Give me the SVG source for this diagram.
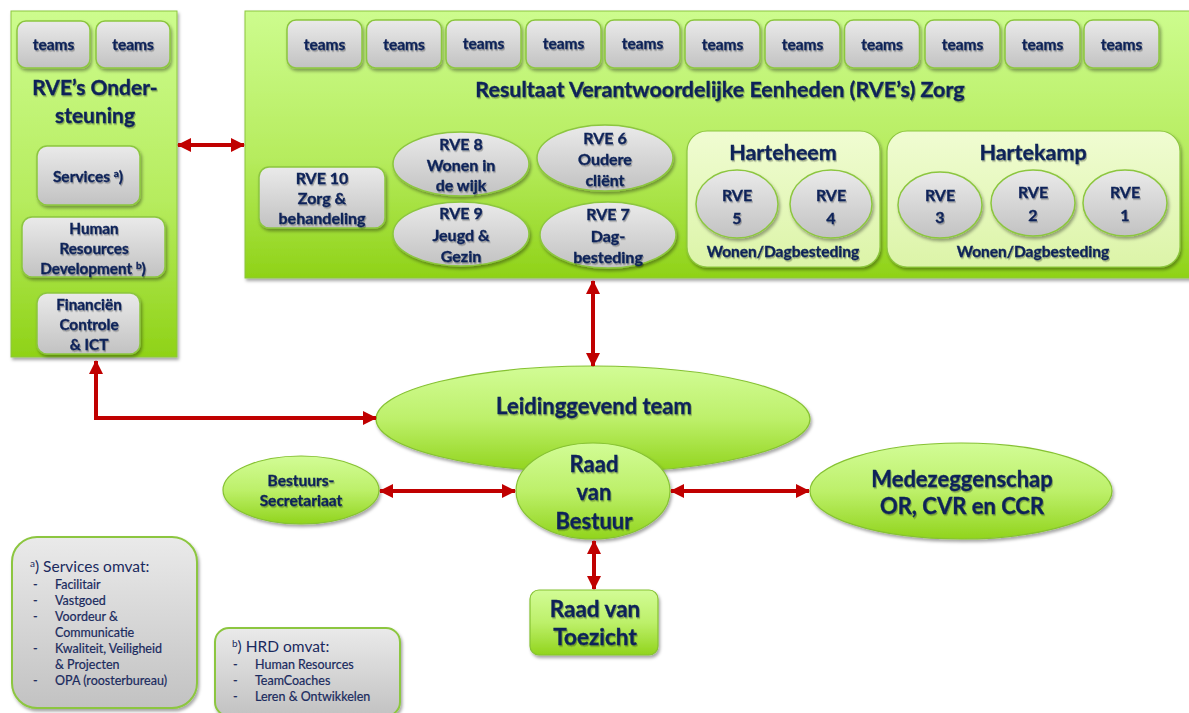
<svg xmlns="http://www.w3.org/2000/svg" width="1189" height="713" viewBox="0 0 1189 713">
<defs>
<linearGradient id="gPanel" x1="0" y1="0" x2="0" y2="1"><stop offset="0" stop-color="#cdfc8e"/><stop offset="0.55" stop-color="#b6ec5e"/><stop offset="1" stop-color="#8fd217"/></linearGradient>
<linearGradient id="gGreen" x1="0" y1="0" x2="0" y2="1"><stop offset="0" stop-color="#d2fc96"/><stop offset="0.5" stop-color="#bdf06a"/><stop offset="1" stop-color="#91d41c"/></linearGradient>
<linearGradient id="gGray" x1="0" y1="0" x2="0" y2="1"><stop offset="0" stop-color="#eaeaea"/><stop offset="1" stop-color="#c2c2c2"/></linearGradient>
<linearGradient id="gLight" x1="0" y1="0" x2="0" y2="1"><stop offset="0" stop-color="#f0fcd2"/><stop offset="1" stop-color="#dcf4a8"/></linearGradient>
<filter id="sh" x="-10%" y="-10%" width="125%" height="130%"><feDropShadow dx="1.5" dy="2.5" stdDeviation="1.8" flood-color="#000" flood-opacity="0.35"/></filter>
<filter id="tsh" x="-5%" y="-20%" width="115%" height="150%"><feDropShadow dx="1" dy="1.5" stdDeviation="0.7" flood-color="#000" flood-opacity="0.3"/></filter>
<marker id="ah" viewBox="0 0 14 14" refX="13" refY="7" markerWidth="14" markerHeight="14" markerUnits="userSpaceOnUse" orient="auto-start-reverse"><path d="M0,0 L14,7 L0,14 Z" fill="#c00000"/></marker>
</defs>
<style>
text{font-family:Lato,"Open Sans","Liberation Sans",sans-serif;font-weight:bold;fill:#0d2359;stroke:#0d2359;stroke-width:0.35;text-anchor:middle}
.t{filter:url(#tsh)}
.panel{fill:url(#gPanel);stroke:#8cc63f;stroke-width:1;filter:url(#sh)}
.gbox{fill:url(#gGray);stroke:#8cc63f;stroke-width:1.5;filter:url(#sh)}
.green{fill:url(#gGreen);stroke:#86c232;stroke-width:1.2;filter:url(#sh)}
.light{fill:url(#gLight);stroke:#8cc63f;stroke-width:1.2;filter:url(#sh)}
.leg{fill:url(#gGray);stroke:#8cc63f;stroke-width:2;filter:url(#sh)}
.tm{font-size:15.5px}
.h{font-size:21.5px}
.b{font-size:22px}
.m{font-size:16px}
.s{font-size:15.3px}
.w{font-size:15.5px}
.l1{font-size:15.5px;font-weight:normal;text-anchor:start;fill:#1a2a5e;stroke:none}
.li{font-size:12.5px;font-weight:normal;text-anchor:start;fill:#1a2a5e;stroke:#1a2a5e;stroke-width:0.2}
.arr{fill:none;stroke:#c00000;stroke-width:4;marker-start:url(#ah);marker-end:url(#ah)}
</style>

<g id="rve-ondersteuning">
<rect class="panel" x="11" y="11" width="166" height="346"/>
<rect class="gbox" x="17" y="21" width="73" height="47" rx="9"/>
<rect class="gbox" x="96" y="21" width="74" height="47" rx="9"/>
<g class="t">
<text class="tm" x="53.5" y="50">teams</text>
<text class="tm" x="133" y="50">teams</text>
<text x="95" y="95" style="font-size:21px">RVE’s Onder-</text>
<text x="95" y="123" style="font-size:21px">steuning</text>
</g>
</g>
<g id="services">
<rect class="gbox" x="37" y="146" width="103" height="59" rx="10"/>
<text class="t w" x="88" y="182">Services <tspan font-size="10" dy="-5">a</tspan><tspan dy="5">)</tspan></text>
</g>
<g id="hrd">
<rect class="gbox" x="22" y="217" width="143" height="60" rx="10"/>
<g class="t">
<text class="s" x="94" y="234">Human</text>
<text class="s" x="94" y="254">Resources</text>
<text class="s" x="93" y="274">Development <tspan font-size="10" dy="-5">b</tspan><tspan dy="5">)</tspan></text>
</g>
</g>
<g id="financien">
<rect class="gbox" x="37" y="293" width="103" height="61" rx="10"/>
<g class="t">
<text class="s" x="89" y="310">Financiën</text>
<text class="s" x="89" y="330">Controle</text>
<text class="s" x="89" y="350">&amp; ICT</text>
</g>
</g>

<g id="rve-zorg">
<rect class="panel" x="245" y="11" width="950" height="267"/>
<g id="zorg-teams">
<rect class="gbox" x="287" y="20" width="75" height="48" rx="9"/>
<rect class="gbox" x="366.5" y="20" width="75" height="48" rx="9"/>
<rect class="gbox" x="446" y="20" width="75" height="48" rx="9"/>
<rect class="gbox" x="526" y="20" width="75" height="48" rx="9"/>
<rect class="gbox" x="605" y="20" width="75" height="48" rx="9"/>
<rect class="gbox" x="685" y="20" width="75" height="48" rx="9"/>
<rect class="gbox" x="765" y="20" width="75" height="48" rx="9"/>
<rect class="gbox" x="844.5" y="20" width="75" height="48" rx="9"/>
<rect class="gbox" x="925" y="20" width="75" height="48" rx="9"/>
<rect class="gbox" x="1005" y="20" width="75" height="48" rx="9"/>
<rect class="gbox" x="1084" y="20" width="75" height="48" rx="9"/>
<g class="t">
<text class="tm" x="324.5" y="50">teams</text>
<text class="tm" x="404" y="50">teams</text>
<text class="tm" x="483.5" y="49">teams</text>
<text class="tm" x="563.5" y="49">teams</text>
<text class="tm" x="642.5" y="49">teams</text>
<text class="tm" x="722.5" y="50">teams</text>
<text class="tm" x="802.5" y="50">teams</text>
<text class="tm" x="882" y="50">teams</text>
<text class="tm" x="962.5" y="50">teams</text>
<text class="tm" x="1042.5" y="50">teams</text>
<text class="tm" x="1121.5" y="50">teams</text>
</g>
</g>
<text class="t h" x="720" y="97">Resultaat Verantwoordelijke Eenheden (RVE’s) Zorg</text>
</g>

<g id="rve10">
<rect class="gbox" x="259" y="167" width="126" height="61" rx="10"/>
<g class="t">
<text class="m" x="322" y="184">RVE 10</text>
<text class="m" x="322" y="204">Zorg &amp;</text>
<text class="m" x="322" y="224">behandeling</text>
</g>
</g>
<g id="rve8">
<ellipse class="gbox" cx="461" cy="164" rx="68" ry="32"/>
<g class="t">
<text class="m" x="461" y="150">RVE 8</text>
<text class="m" x="461" y="171">Wonen in</text>
<text class="m" x="461" y="191">de wijk</text>
</g>
</g>
<g id="rve6">
<ellipse class="gbox" cx="605" cy="158" rx="68" ry="33"/>
<g class="t">
<text class="m" x="605" y="144">RVE 6</text>
<text class="m" x="605" y="165">Oudere</text>
<text class="m" x="605" y="186">cliënt</text>
</g>
</g>
<g id="rve9">
<ellipse class="gbox" cx="461" cy="234" rx="68" ry="32"/>
<g class="t">
<text class="m" x="461" y="219">RVE 9</text>
<text class="m" x="461" y="241">Jeugd &amp;</text>
<text class="m" x="461" y="262">Gezin</text>
</g>
</g>
<g id="rve7">
<ellipse class="gbox" cx="608" cy="235" rx="68" ry="33"/>
<g class="t">
<text class="m" x="608" y="220">RVE 7</text>
<text class="m" x="608" y="242">Dag-</text>
<text class="m" x="608" y="263">besteding</text>
</g>
</g>

<g id="harteheem">
<rect class="light" x="687" y="131" width="193" height="136" rx="20"/>
<text class="t h" x="783" y="160">Harteheem</text>
<ellipse class="gbox" cx="737" cy="204" rx="41" ry="34"/>
<ellipse class="gbox" cx="831" cy="204" rx="41" ry="34"/>
<g class="t">
<text class="m" x="737" y="201">RVE</text>
<text class="m" x="737" y="224">5</text>
<text class="m" x="831" y="201">RVE</text>
<text class="m" x="831" y="224">4</text>
<text class="w" x="783" y="257">Wonen/Dagbesteding</text>
</g>
</g>
<g id="hartekamp">
<rect class="light" x="887" y="131" width="293" height="136" rx="20"/>
<text class="t h" x="1033" y="160">Hartekamp</text>
<ellipse class="gbox" cx="940" cy="205" rx="42" ry="33"/>
<ellipse class="gbox" cx="1033" cy="203" rx="42" ry="33"/>
<ellipse class="gbox" cx="1125" cy="203" rx="42" ry="33"/>
<g class="t">
<text class="m" x="940" y="201">RVE</text>
<text class="m" x="940" y="223">3</text>
<text class="m" x="1033" y="198">RVE</text>
<text class="m" x="1033" y="221">2</text>
<text class="m" x="1125" y="198">RVE</text>
<text class="m" x="1125" y="221">1</text>
<text class="w" x="1033" y="257">Wonen/Dagbesteding</text>
</g>
</g>

<g id="leidinggevend">
<ellipse class="green" cx="593" cy="419" rx="217" ry="53"/>
<text class="t b" x="594" y="414">Leidinggevend team</text>
</g>
<g id="bestuurssecretariaat">
<ellipse class="green" cx="301" cy="490" rx="78" ry="34"/>
<g class="t">
<text class="w" x="301" y="486">Bestuurs-</text>
<text class="w" x="301" y="506">Secretariaat</text>
</g>
</g>
<g id="raad-van-bestuur">
<ellipse class="green" cx="593" cy="491" rx="77" ry="48"/>
<g class="t">
<text class="b" x="594" y="472">Raad</text>
<text class="b" x="594" y="500">van</text>
<text class="b" x="594" y="529">Bestuur</text>
</g>
</g>
<g id="medezeggenschap">
<ellipse class="green" cx="961" cy="491" rx="151" ry="48"/>
<g class="t">
<text class="b" x="962" y="487">Medezeggenschap</text>
<text class="b" x="962" y="514">OR, CVR en CCR</text>
</g>
</g>
<g id="raad-van-toezicht">
<rect class="green" x="530" y="590" width="128" height="65" rx="9"/>
<g class="t">
<text x="595" y="617" style="font-size:22.5px">Raad van</text>
<text x="595" y="645" style="font-size:22.5px">Toezicht</text>
</g>
</g>

<g id="legend-services">
<rect class="leg" x="12" y="537" width="185" height="171" rx="25"/>
<text class="l1" x="30" y="572"><tspan font-size="10" dy="-5">a</tspan><tspan dy="5">) Services omvat:</tspan></text>
<text class="li" x="33" y="589">-</text><text class="li" x="55" y="589">Facilitair</text>
<text class="li" x="33" y="605">-</text><text class="li" x="55" y="605">Vastgoed</text>
<text class="li" x="33" y="621">-</text><text class="li" x="55" y="621">Voordeur &amp;</text>
<text class="li" x="55" y="637">Communicatie</text>
<text class="li" x="33" y="653">-</text><text class="li" x="55" y="653">Kwaliteit, Veiligheid</text>
<text class="li" x="55" y="669">&amp; Projecten</text>
<text class="li" x="33" y="685">-</text><text class="li" x="55" y="685">OPA (roosterbureau)</text>
</g>
<g id="legend-hrd">
<rect class="leg" x="215" y="628" width="185" height="88" rx="14"/>
<text class="l1" x="232" y="652"><tspan font-size="10" dy="-5">b</tspan><tspan dy="5">) HRD omvat:</tspan></text>
<text class="li" x="233" y="669">-</text><text class="li" x="255" y="669">Human Resources</text>
<text class="li" x="233" y="685">-</text><text class="li" x="255" y="685">TeamCoaches</text>
<text class="li" x="233" y="701">-</text><text class="li" x="255" y="701">Leren &amp; Ontwikkelen</text>
</g>

<g id="connectors">
<path class="arr" d="M178,145 L244,145"/>
<path class="arr" d="M593,281 L593,366"/>
<path class="arr" d="M96,361 L96,418 L376,418"/>
<path class="arr" d="M380,491 L515,491"/>
<path class="arr" d="M671,491 L809,491"/>
<path class="arr" d="M594,541 L594,589"/>
</g>
</svg>
